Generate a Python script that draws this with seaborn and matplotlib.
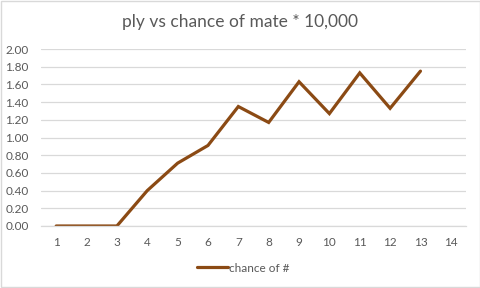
import matplotlib
matplotlib.use("Agg")
import matplotlib.pyplot as plt
import seaborn as sns
import pandas as pd
from matplotlib.patches import Rectangle

ply = list(range(1, 15))
ply_with_data = [1, 2, 3, 4, 5, 6, 7, 8, 9, 10, 11, 12, 13]
chance = [0.0, 0.0, 0.0, 0.40, 0.71, 0.91, 1.35, 1.17, 1.63, 1.27, 1.73, 1.33, 1.75]
yticks = [0.0, 0.2, 0.4, 0.6, 0.8, 1.0, 1.2, 1.4, 1.6, 1.8, 2.0]
title = "ply vs chance of mate * 10,000"
series_name = "chance of #"

sns.set_theme(style="white")
plt.rcParams['font.family'] = ['Lato', 'DejaVu Sans']

df = pd.DataFrame({"ply": ply_with_data, "chance": chance})

fig = plt.figure(figsize=(4.81, 2.88), dpi=100)
ax = fig.add_axes([41/481, 62/288, 425/481, 177/288])

line_color = "#8B4A14"
sns.lineplot(data=df, x="ply", y="chance", ax=ax, color=line_color,
             linewidth=2.3, label=series_name, solid_joinstyle="miter")

ax.set_xlim(0.5, 14.5)
ax.set_ylim(0, 2.0)
ax.set_yticks(yticks)
ax.set_yticklabels([f"{v:.2f}" for v in yticks])
ax.set_xticks(ply)
ax.set_xticklabels([str(p) for p in ply])
ax.grid(axis="y", color="#D9D9D9", linewidth=0.9)
ax.set_axisbelow(True)
for s in ["top", "right", "left"]:
    ax.spines[s].set_visible(False)
ax.spines["bottom"].set_color("#D9D9D9")
ax.spines["bottom"].set_linewidth(0.9)
ax.tick_params(axis="both", length=0, labelsize=8.5, colors="#595959")
ax.tick_params(axis="y", pad=9)
ax.tick_params(axis="x", pad=8)
ax.set_xlabel("")
ax.set_ylabel("")

fig.text(0.5, 1 - 22/288, title, ha="center", va="center", fontsize=12.5,
         color="#595959")

leg = ax.legend(loc="center", bbox_to_anchor=(243/481, 1 - 268/288),
                bbox_transform=fig.transFigure, frameon=False,
                fontsize=8.5, handlelength=2.6, handletextpad=0.1)
for t in leg.get_texts():
    t.set_color("#595959")

fig.patches.append(Rectangle((0.002, 0.003), 0.996, 0.994, transform=fig.transFigure,
                             fill=False, edgecolor="#D9D9D9", linewidth=1.0))

fig.savefig("out.png", dpi=100)
